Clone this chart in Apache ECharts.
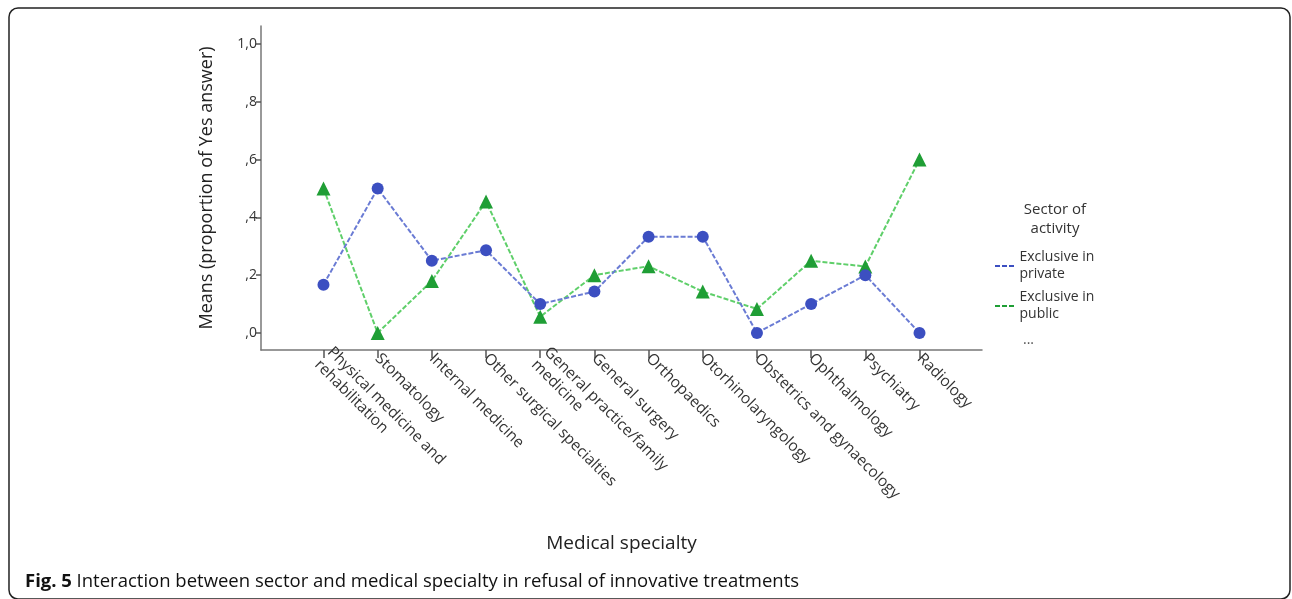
<!DOCTYPE html>
<html>
<head>
<meta charset="utf-8">
<script src="https://cdn.jsdelivr.net/npm/echarts@6/dist/echarts.min.js"></script>
<style>
html,body{margin:0;padding:0;background:#fff;}
#chart{width:1292px;height:599px;}
</style>
</head>
<body>
<div id="chart"></div>
<script>
const categories = [
  "Physical medicine and\nrehabilitation",
  "Stomatology",
  "Internal medicine",
  "Other surgical specialties",
  "General practice/family\nmedicine",
  "General surgery",
  "Orthopaedics",
  "Otorhinolaryngology",
  "Obstetrics and gynaecology",
  "Ophthalmology",
  "Psychiatry",
  "Radiology"
];
const privateValues = [0.167, 0.5, 0.25, 0.286, 0.1, 0.143, 0.333, 0.333, 0.0, 0.1, 0.2, 0.0];
const publicValues  = [0.5, 0.0, 0.18, 0.455, 0.056, 0.2, 0.231, 0.143, 0.083, 0.25, 0.23, 0.6];
const yTicks = [0, 0.2, 0.4, 0.6, 0.8, 1.0];
const yTickLabels = [",0", ",2", ",4", ",6", ",8", "1,0"];
const seriesNames = ["Exclusive in\nprivate", "Exclusive in\npublic"];

const catIdx = categories.map((c, i) => i);
const chart = echarts.init(document.getElementById('chart'));
const font = "'Open Sans', 'Noto Sans', sans-serif";
const dashIcon = 'path://M0 0h5v2H0z M7 0h5v2H7z M14 0h5v2h-5z';

chart.setOption({
  animation: false,
  backgroundColor: '#fff',
  textStyle: { fontFamily: font },
  title: [
    {
      text: 'Sector of\nactivity',
      left: 1050, top: 195,
      textAlign: 'center',
      textStyle: { fontFamily: font, fontSize: 15, fontWeight: 'normal', color: '#333', lineHeight: 19 }
    },
    {
      text: '{b|Fig. 5} {n|Interaction between sector and medical specialty in refusal of innovative treatments}',
      left: 20, top: 567,
      textStyle: {
        fontFamily: font,
        rich: {
          b: { fontWeight: 'bold', fontSize: 18.5, color: '#111', fontFamily: font },
          n: { fontWeight: 'normal', fontSize: 18.5, color: '#111', fontFamily: font }
        }
      }
    },
    {
      text: '...',
      left: 1018, top: 328,
      textStyle: { fontFamily: font, fontSize: 14, fontWeight: 'normal', color: '#555' }
    }
  ],
  legend: {
    orient: 'vertical',
    left: 990, top: 244,
    itemWidth: 20, itemHeight: 2,
    itemGap: 6,
    icon: dashIcon,
    textStyle: { fontFamily: font, fontSize: 14, color: '#333', lineHeight: 17 },
    data: seriesNames
  },
  grid: { left: 261, top: 26, width: 721, height: 324, containLabel: false },
  xAxis: {
    type: 'value',
    min: -1.153, max: 12.153,
    name: 'Medical specialty',
    nameLocation: 'middle',
    nameGap: 184,
    nameTextStyle: { fontFamily: font, fontSize: 19, color: '#222' },
    splitLine: { show: false },
    axisLine: { show: true, onZero: false, lineStyle: { color: '#777', width: 1.5 } },
    axisTick: { show: true, length: 8, customValues: catIdx, lineStyle: { color: '#555', width: 1.5 } },
    axisLabel: {
      customValues: catIdx,
      rotate: -45,
      margin: 6,
      fontFamily: font, fontSize: 15.5, color: '#333', lineHeight: 18,
      formatter: v => categories[Math.round(v)] || ''
    }
  },
  yAxis: {
    type: 'value',
    min: -0.059, max: 1.062,
    name: 'Means (proportion of Yes answer)',
    nameLocation: 'middle',
    nameGap: 45,
    nameTextStyle: { fontFamily: font, fontSize: 18, color: '#222' },
    splitLine: { show: false },
    axisLine: { show: true, onZero: false, lineStyle: { color: '#777', width: 1.5 } },
    axisTick: { show: true, length: 5, customValues: yTicks, lineStyle: { color: '#555', width: 1.5 } },
    axisLabel: {
      customValues: yTicks,
      margin: 4,
      fontFamily: font, fontSize: 14, color: '#333',
      formatter: v => { const i = yTicks.findIndex(t => Math.abs(t - v) < 1e-6); return i >= 0 ? yTickLabels[i] : ''; }
    }
  },
  series: [
    {
      name: seriesNames[0],
      type: 'line',
      data: privateValues.map((v, i) => [i, v]),
      symbol: 'circle', symbolSize: 12,
      lineStyle: { color: '#6a7bd4', width: 2, type: [5, 2] },
      itemStyle: { color: '#3c4fc1' },
      color: '#5a6cd0',
      z: 3
    },
    {
      name: seriesNames[1],
      type: 'line',
      data: publicValues.map((v, i) => [i, v]),
      symbol: 'triangle', symbolSize: 14,
      lineStyle: { color: '#5fcf6a', width: 2, type: [5, 2] },
      itemStyle: { color: '#1f9e35' },
      color: '#5fcf6a',
      z: 2
    }
  ],
  graphic: [
    {
      type: 'rect',
      shape: { x: 9, y: 8, width: 1281, height: 591, r: 9 },
      style: { fill: 'none', stroke: '#222', lineWidth: 1.5 },
      silent: true
    }
  ]
});
</script>
</body>
</html>
